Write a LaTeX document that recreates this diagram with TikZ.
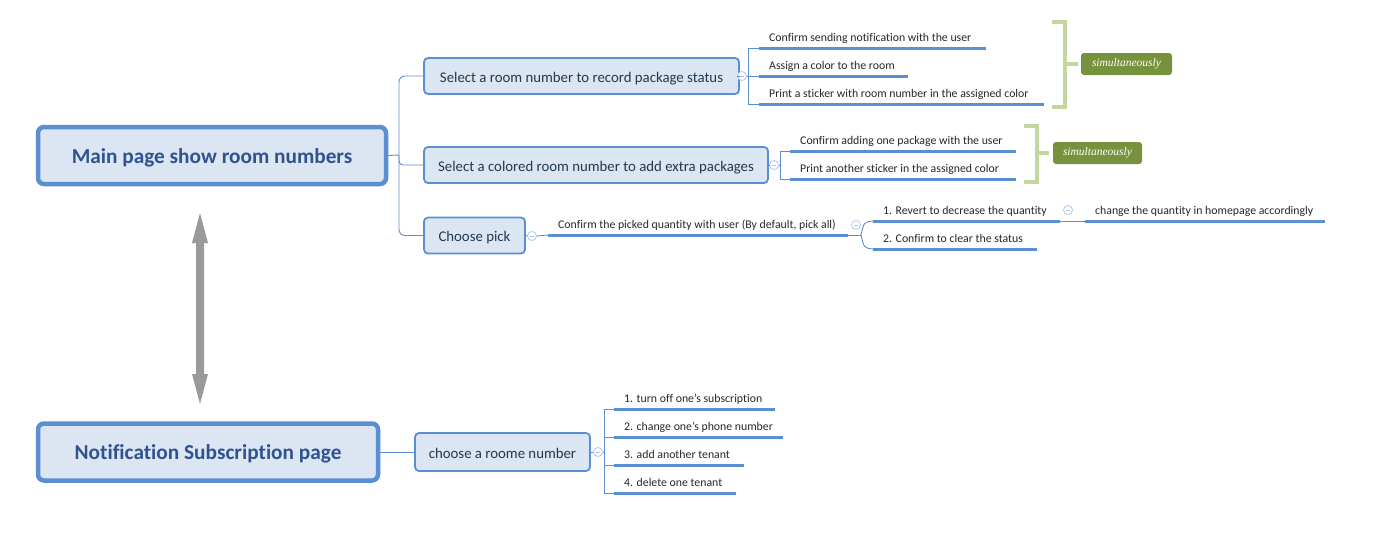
\documentclass[tikz,border=0pt]{standalone}
\usepackage{fontspec}
\setmainfont{Carlito}[Ligatures=NoCommon]
\newfontfamily\simfont{Liberation Serif}
\usetikzlibrary{calc}
\definecolor{bblue}{HTML}{5B8FD4}
\definecolor{bfill}{HTML}{DCE6F2}
\definecolor{ttitle}{HTML}{2F5391}
\definecolor{tsub}{HTML}{22384F}
\definecolor{gbrk}{HTML}{C3D69B}
\definecolor{gbox}{HTML}{76923C}
\definecolor{cgray}{HTML}{9A9A9A}
\definecolor{ccirc}{HTML}{A9C2EC}
\tikzset{
  mainbox/.style={draw=bblue, fill=bfill, line width=4.5pt, rounded corners=6pt, font=\fontsize{21.3}{24}\selectfont\bfseries, text=ttitle, inner sep=0pt, text height=17pt, text depth=2pt},
  subbox/.style={draw=bblue, fill=bfill, line width=1.8pt, rounded corners=4pt, font=\fontsize{14.8}{17}\selectfont, text=tsub, inner sep=0pt, minimum height=36pt, text height=13pt, text depth=0.5pt},
  leaf/.style={inner xsep=10pt, inner ysep=0pt, font=\fontsize{11.8}{14}\selectfont, text=black!85, anchor=base west},
  uline/.style={draw=bblue, line width=3pt},
  conn/.style={draw=bblue, line width=0.9pt},
  coll/.style={circle, draw=ccirc, fill=white, line width=0.7pt, minimum size=9pt, inner sep=0pt,
    path picture={\draw[ccirc, line width=0.7pt] ([xshift=-2.2pt]path picture bounding box.center) -- ([xshift=2.2pt]path picture bounding box.center);}},
  brk/.style={draw=gbrk, line width=4pt},
  simbox/.style={fill=gbox, rounded corners=3pt, text=white, font=\simfont\itshape\fontsize{11.5}{13}\selectfont, inner sep=0pt},
}
\newcommand{\leafnode}[5]{%
  \node[leaf] (#1) at (#2,#3-7) {\makebox[\dimexpr #4pt-#2pt-20pt\relax][l]{#5}};
  \draw[uline] ([yshift=-7pt]#1.base west) -- ([yshift=-7pt]#1.base east);}
\begin{document}
\begin{tikzpicture}[x=1pt,y=-1pt]
\useasboundingbox (0,0) rectangle (1373,533);
% main boxes
\node[mainbox, minimum width=348pt, minimum height=57pt] (main) at (212,155.5) {Main page show room numbers};
\node[mainbox, minimum width=340pt, minimum height=57pt] (notif) at (208,452) {Notification Subscription page};
% double arrow
\fill[cgray] (200,213) -- (208,243) -- (204,243) -- (204,374) -- (208,374) -- (200,404) -- (192,374) -- (196,374) -- (196,243) -- (192,243) -- cycle;
% sub boxes
\node[subbox, minimum width=315pt] (s1) at (581.5,76) {Select a room number to record package status};
\node[subbox, minimum width=344pt] (s2) at (596,165) {Select a colored room number to add extra packages};
\node[subbox, minimum width=101pt] (s3) at (474.5,235.5) {Choose pick};
\node[subbox, minimum width=175pt, minimum height=38pt] (n1) at (502.5,452) {choose a roome number};
% main connectors
\coordinate (mj) at (399,155);
\draw[conn] (main.east) -- (mj);
\draw[conn, rounded corners=6pt] (mj) |- (s1.west);
\draw[conn, rounded corners=4pt] (mj) |- (s2.west);
\draw[conn, rounded corners=6pt] (mj) |- (s3.west);
\draw[conn] (notif.east) -- (n1.west);
% group 1 leaves
\leafnode{a1}{759}{48}{986}{Confirm sending notification with the user}
\leafnode{a2}{759}{76}{908}{Assign a color to the room}
\leafnode{a3}{759}{104}{1044}{Print a sticker with room number in the assigned color}
\node[coll] (c1) at (742,76) {};
\draw[conn] (s1.east) -- (c1.west);
\draw[conn] (c1.east) -- ([yshift=-7pt]a2.base west);
\draw[conn] ([yshift=-7pt]a1.base west) -- ++(-11,0) |- ([yshift=-7pt]a3.base west);
% group 2 leaves
\leafnode{b1}{790}{151}{1016}{Confirm adding one package with the user}
\leafnode{b2}{790}{179}{1016}{Print another sticker in the assigned color}
\node[coll] (c2) at (774,165) {};
\draw[conn] (s2.east) -- (c2.west);
\draw[conn] (c2.east) -- (780,165);
\draw[conn] ([yshift=-7pt]b1.base west) -- ++(-10,0) |- ([yshift=-7pt]b2.base west);
% green brackets
\draw[brk] (1052,22) -- (1065,22) -- (1065,107) -- (1052,107);
\coordinate (g1) at (1078,64);
\draw[brk] (1065,64) -- (g1);
\node[simbox, minimum width=91pt, minimum height=22pt] (sim1) at (1126.5,64) {simultaneously};
\draw[brk] (1024,126) -- (1037,126) -- (1037,182) -- (1024,182);
\coordinate (g2) at (1049,153);
\draw[brk] (1037,153) -- (g2);
\node[simbox, minimum width=89pt, minimum height=22pt] (sim2) at (1097.5,153) {simultaneously};
% choose pick branch
\node[coll] (c3) at (532,236) {};
\draw[conn] (s3.east) -- (c3.west);
\leafnode{p1}{548}{235}{848}{Confirm the picked quantity with user (By default, pick all)}
\draw[conn] (c3.east) -- ([yshift=-7pt]p1.base west);
\leafnode{q1}{873}{221}{1060}{1. Revert to decrease the quantity}
\leafnode{q2}{873}{249}{1037}{2. Confirm to clear the status}
\coordinate (pj) at (861,235);
\draw[conn] ([yshift=-7pt]p1.base east) -- (pj);
\draw[conn] (pj) .. controls (864,222) .. ([yshift=-7pt]q1.base west);
\draw[conn] (pj) .. controls (864,248) .. ([yshift=-7pt]q2.base west);
\node[coll] (c4) at (856,225) {};
\leafnode{r1}{1085}{221}{1325}{change the quantity in homepage accordingly}
\draw[conn] ([yshift=-7pt]q1.base east) -- ([yshift=-7pt]r1.base west);
\node[coll] (c5) at (1068,210) {};
% notification leaves
\leafnode{d1}{614}{409}{775}{1. turn off one's subscription}
\leafnode{d2}{614}{437}{783}{2. change one's phone number}
\leafnode{d3}{614}{465}{744}{3. add another tenant}
\leafnode{d4}{614}{493}{736}{4. delete one tenant}
\node[coll] (c6) at (598,452) {};
\draw[conn] (n1.east) -- (c6.west);
\draw[conn] (c6.east) -- (604,452);
\draw[conn] ([yshift=-7pt]d1.base west) -- ++(-10,0) |- ([yshift=-7pt]d4.base west);
\draw[conn] (604,437) -- ([yshift=-7pt]d2.base west);
\draw[conn] (604,465) -- ([yshift=-7pt]d3.base west);
\end{tikzpicture}
\end{document}
